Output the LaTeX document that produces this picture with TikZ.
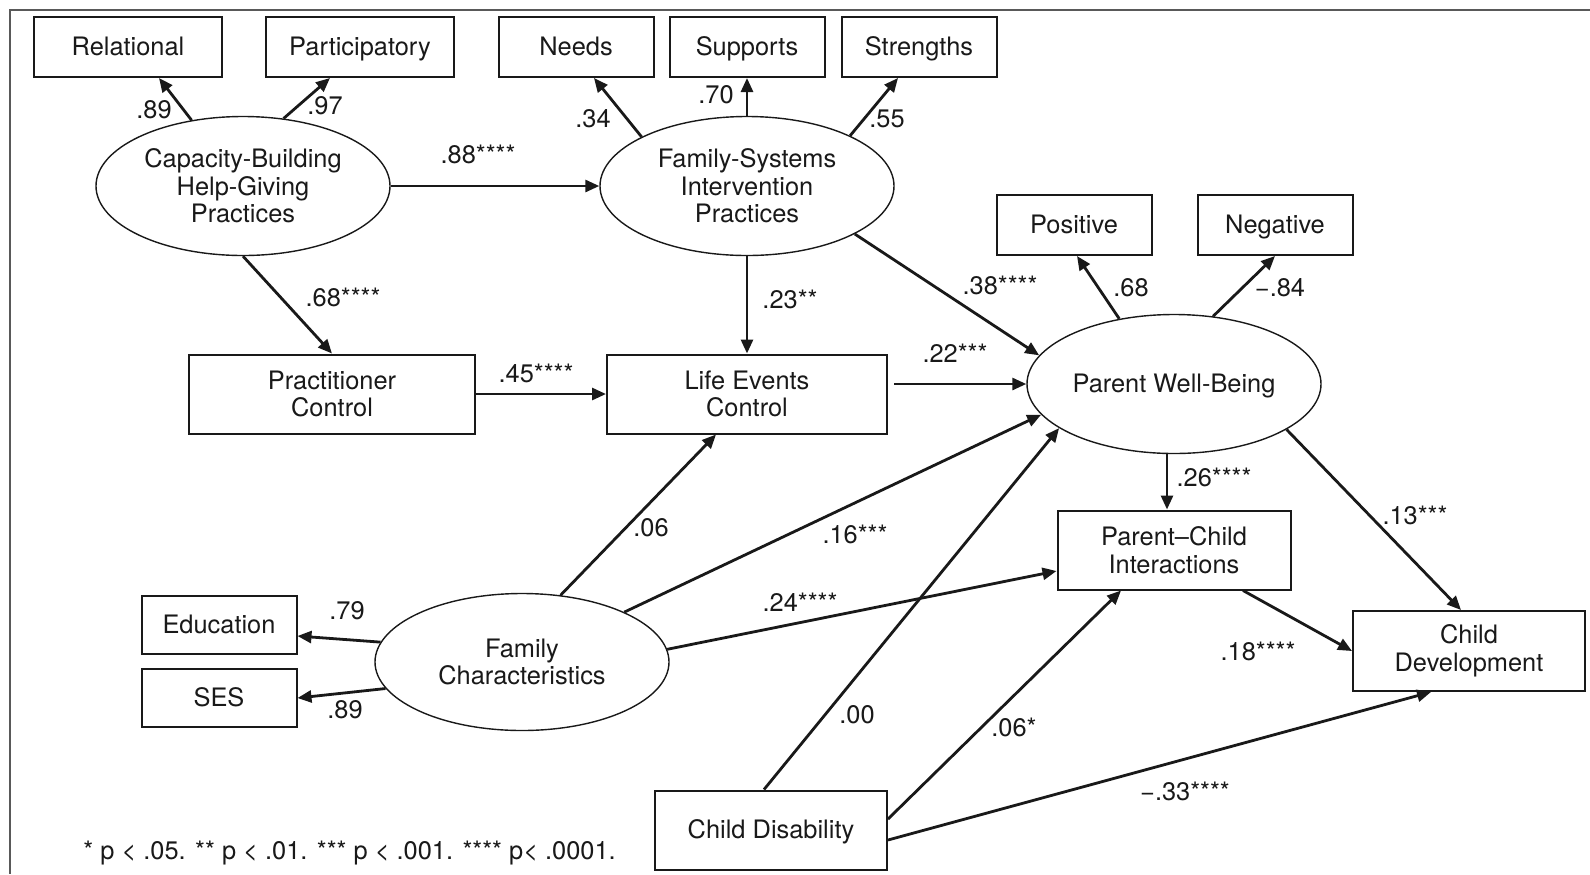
\documentclass[tikz,border=0pt]{standalone}
\usepackage{fontspec}
\setmainfont{TeX Gyre Heros}
\usepackage{tikz}
\usetikzlibrary{arrows.meta, positioning, shapes.geometric}
\definecolor{mainBlack}{gray}{0.1}
\definecolor{frameGray}{gray}{0.35}
\newcommand{\semfont}{\fontsize{12.7}{13.8}\selectfont}

\begin{document}
\begin{tikzpicture}[x=0.5pt, y=-0.5pt,
    box/.style={draw=mainBlack, line width=1pt, inner sep=0pt, align=center, font=\semfont, text=mainBlack},
    oneline/.style={text height=9.3pt, text depth=0.7pt},
    wide/.style={oneline, minimum width=94pt, minimum height=30pt},
    narrow/.style={oneline, minimum width=77.5pt, minimum height=30pt},
    twoline/.style={minimum height=39.5pt},
    latent/.style={ellipse, draw=mainBlack, line width=0.7pt, inner sep=0pt, align=center, font=\semfont, text=mainBlack, minimum width=147pt, minimum height=69.5pt},
    link/.style={-{Triangle[length=7pt, width=6pt]}, line width=1.4pt, draw=mainBlack},
    coef/.style={font=\semfont, text=mainBlack, inner sep=0pt}]

    \useasboundingbox (0,0) rectangle (1590,874);
    \draw[frameGray, line width=0.7pt] (1590,10) -- (10,10) -- (10,874);

    % indicators
    \node[box, wide] (rel) at (128,47) {Relational};
    \node[box, wide] (part) at (360,47) {Participatory};
    \node[box, narrow] (needs) at (576,47) {Needs};
    \node[box, narrow] (supp) at (747,47) {Supports};
    \node[box, narrow] (stren) at (919,47) {Strengths};
    \node[box, narrow] (pos) at (1074,225) {Positive};
    \node[box, narrow] (neg) at (1275,225) {Negative};
    \node[box, narrow, minimum height=29pt] (edu) at (219,625) {Education};
    \node[box, narrow, minimum height=29pt] (ses) at (219,698) {SES};

    % latent variables
    \node[latent] (cb) at (243,186) {Capacity-Building\\Help-Giving\\Practices};
    \node[latent] (fs) at (747,186) {Family-Systems\\Intervention\\Practices};
    \node[latent, oneline] (pwb) at (1174,384) {Parent Well-Being};
    \node[latent, minimum height=68.5pt] (fc) at (522,662) {Family\\Characteristics};

    % observed variables
    \node[box, twoline, minimum width=143pt] (pc) at (332,394) {Practitioner\\Control};
    \node[box, twoline, minimum width=140pt] (le) at (747,394) {Life Events\\Control};
    \node[box, twoline, minimum width=116.5pt] (pci) at (1174,550) {Parent--Child\\Interactions};
    \node[box, twoline, minimum width=116pt, minimum height=40pt] (cdev) at (1469,651) {Child\\Development};
    \node[box, twoline, oneline, minimum width=116pt] (cdis) at (771,830) {Child Disability};
    \coordinate (lePort) at ([xshift=3pt]le.east);

    % paths
    \draw[link] (cb.128) -- ([xshift=15.5pt]rel.south);
    \draw[link] (cb.59) -- ([xshift=-15pt]part.south);
    \draw[link] (cb) -- (fs);
    \draw[link] (cb.south) -- (pc.north);
    \draw[link] (fs.155) -- ([xshift=9pt]needs.south);
    \draw[link] (fs.north) -- (supp.south);
    \draw[link] (fs.26) -- ([xshift=-10.5pt]stren.south);
    \draw[link] (fs.south) -- (le.north);
    \draw[link] (fs.-24) -- (pwb.168);
    \draw[link] (pc) -- (le);
    \draw[link] (lePort |- pwb.west) -- (pwb.west);
    \draw[link] (pwb.130) -- ([xshift=1.5pt]pos.south);
    \draw[link] (pwb.60) -- (neg.south);
    \draw[link] ([xshift=-3.5pt]pwb.south) -- ([xshift=-3.5pt]pci.north);
    \draw[link] (pwb.-22) -- ([xshift=-4pt]cdev.north);
    \draw[link] ([xshift=34.5pt]pci.south) -- (cdev.west);
    \draw[link] (fc.172) -- ([yshift=-5.5pt]edu.east);
    \draw[link] (fc.-169) -- (ses.east);
    \draw[link] (fc.60) -- ([xshift=-15.5pt]le.south);
    \draw[link] (fc.26) -- (pwb.-167);
    \draw[link] (fc.5) -- ([yshift=-10.5pt]pci.west);
    \draw[link] ([xshift=-3.5pt]cdis.north) -- (pwb.-159);
    \draw[link] ([yshift=5.5pt]cdis.east) -- ([xshift=-26.5pt]pci.south);
    \draw[link] ([yshift=-5pt]cdis.east) -- ([xshift=-19pt]cdev.south);

    % coefficients
    \node[coef] (c-rel) at (154,110) {.89};
    \node[coef] (c-part) at (325,106) {.97};
    \node[coef] (c-cbfs) at (478,154) {.88****};
    \node[coef] (c-cbpc) at (343,297) {.68****};
    \node[coef] (c-needs) at (593,119) {.34};
    \node[coef] (c-supp) at (716,95) {.70};
    \node[coef] (c-stren) at (887,119) {.55};
    \node[coef] (c-fsle) at (790,299) {.23**};
    \node[coef] (c-fspwb) at (1000,285) {.38****};
    \node[coef] (c-pcle) at (536,373) {.45****};
    \node[coef] (c-lepwb) at (955,353) {.22***};
    \node[coef] (c-pos) at (1131,288) {.68};
    \node[coef] (c-neg) at (1280,288) {−.84};
    \node[coef] (c-pwbpci) at (1214,477) {.26****};
    \node[coef] (c-pwbcd) at (1415,515) {.13***};
    \node[coef] (c-pcicd) at (1258,651) {.18****};
    \node[coef] (c-edu) at (347,611) {.79};
    \node[coef] (c-ses) at (345,710) {.89};
    \node[coef] (c-fcle) at (651,528) {.06};
    \node[coef] (c-fcpwb) at (855,534) {.16***};
    \node[coef] (c-fcpci) at (800,602) {.24****};
    \node[coef] (c-cdpwb) at (857,715) {.00};
    \node[coef] (c-cdpci) at (1014,727) {.06*};
    \node[coef] (c-cdcd) at (1185,791) {−.33****};
    \node[coef, anchor=west] (note) at (83,853) {* p < .05. ** p < .01. *** p < .001. **** p< .0001.};
\end{tikzpicture}
\end{document}
